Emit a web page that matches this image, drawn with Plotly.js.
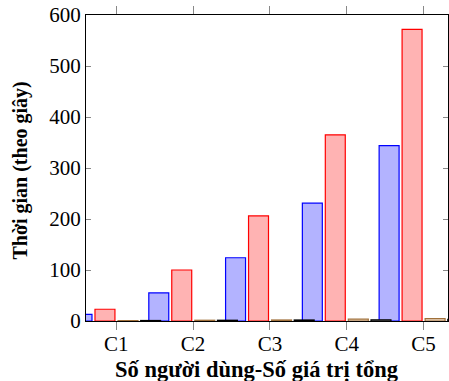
<!DOCTYPE html>
<html>
<head>
<meta charset="utf-8">
<script src="https://cdn.plot.ly/plotly-3.0.1.min.js"></script>
<style>html,body{margin:0;padding:0;background:#fff;}#chart{width:449px;height:381px;}</style>
</head>
<body>
<div id="chart"></div>
<script>
const categories = ["C1", "C2", "C3", "C4", "C5"];
const seriesBlue = [13, 55, 124, 231, 344];
const seriesRed = [23, 100, 206, 365, 572];
const seriesBrown = [0.8, 1.5, 2, 3.5, 4.5];
const seriesBlack = [1, 1.5, 2, 2.5, 3];
const yTicks = [0, 100, 200, 300, 400, 500, 600];

const serif = "Liberation Serif, Times New Roman, serif";
const fs = 21;
const w = 0.26;
function bar(y, offset, fill, stroke) {
  return {
    type: "bar", x: categories, y: y, width: w, offset: offset,
    marker: {color: fill, line: {color: stroke, width: 1.2}},
    hoverinfo: "skip", showlegend: false
  };
}
const data = [
  bar(seriesBlue, -0.577, "#b3b3ff", "#0000ff"),
  bar(seriesRed, -0.278, "#ffb3b3", "#ff0000"),
  bar(seriesBrown, 0.022, "#ecd9c6", "#a0703a"),
  bar(seriesBlack, 0.317, "#b3b3b3", "#000000")
];
const layout = {
  width: 449, height: 381,
  margin: {l: 86, r: 1, t: 15, b: 60},
  paper_bgcolor: "#fff", plot_bgcolor: "#fff",
  barmode: "overlay",
  font: {family: serif, size: fs, color: "#000"},
  xaxis: {
    type: "category", range: [-0.395, 4.32],
    tickmode: "array", tickvals: categories, ticktext: categories,
    ticks: "outside", ticklen: 8, tickcolor: "#888", tickwidth: 1,
    ticklabelstandoff: -4,
    showline: true, linecolor: "#000", linewidth: 1, mirror: "ticks",
    showgrid: false, zeroline: false,
    tickfont: {family: serif, size: fs, color: "#000"}
  },
  yaxis: {
    range: [0, 600], tickmode: "array", tickvals: yTicks,
    ticks: "inside", ticklen: 5, tickcolor: "#888", tickwidth: 1,
    showline: true, linecolor: "#000", linewidth: 1, mirror: "ticks",
    showgrid: false, zeroline: false,
    tickfont: {family: serif, size: fs, color: "#000"}
  },
  annotations: [
    {text: "<b>Số người dùng-Số giá trị tổng</b>", xref: "paper", yref: "paper",
     x: 0.472, y: -0.157, xanchor: "center", yanchor: "middle", showarrow: false,
     font: {family: serif, size: 22.5, color: "#000"}},
    {text: "<b>Thời gian (theo giây)</b>", xref: "paper", yref: "paper",
     x: -0.182, y: 0.492, xanchor: "center", yanchor: "middle", showarrow: false,
     textangle: -90, font: {family: serif, size: 20, color: "#000"}}
  ]
};
Plotly.newPlot("chart", data, layout, {staticPlot: true});
</script>
</body>
</html>
